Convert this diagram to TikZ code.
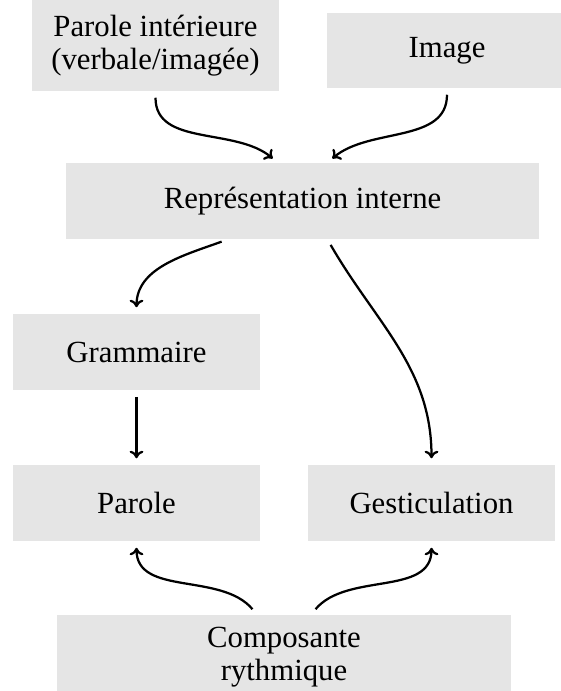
\documentclass[tikz,border=0pt]{standalone}
\usepackage{fontspec}
\setmainfont{Liberation Serif}
\usepackage{tikz}
\usetikzlibrary{positioning,arrows.meta}

\tikzset{
  bloc/.style={fill=gray!20, inner sep=0pt, align=center,
    font=\fontsize{12.3}{13.4}\selectfont},
  lien/.style={-{To[length=3pt,width=5.5pt]}, line width=0.9pt, shorten <=2.5pt, shorten >=2.5pt}
}

\begin{document}
\begin{tikzpicture}[x=0.4pt,y=-0.4pt]
      \useasboundingbox (0,0) rectangle (560,691);
      \node[bloc,minimum width=98.8pt,minimum height=36.4pt] (pint) at (155.5,45.5) {Parole intérieure\\(verbale/imagée)};
      \node[bloc,minimum width=96pt,minimum height=30pt] (img) at (447,50.5) {Image};
      \node[bloc,minimum width=189.2pt,minimum height=30.4pt] (rep) at (302.5,201) {Représentation interne};
      \node[bloc,minimum width=98.8pt,minimum height=30.4pt] (gram) at (136.5,352) {Grammaire};
      \node[bloc,minimum width=98.8pt,minimum height=30.4pt] (parole) at (136.5,503) {Parole};
      \node[bloc,minimum width=98.8pt,minimum height=30.4pt] (gest) at (431.5,503) {Gesticulation};
      \node[bloc,minimum width=181.6pt,minimum height=34pt] (comp) at (284,657) {Composante\\rythmique};
      \draw[lien] (pint.south) to[out=-90,in=140] ([xshift=-10pt]rep.north);
      \draw[lien] (img.south) to[out=-90,in=40] ([xshift=10pt]rep.north);
      \draw[lien] ([xshift=-30pt]rep.south) to[out=200,in=90] (gram.north);
      \draw[lien] ([xshift=10pt]rep.south) to[out=-60,in=90] (gest.north);
      \draw[lien] (gram) -- (parole);
      \draw[lien] ([xshift=-11pt]comp.north) to[out=130,in=-90] (parole.south);
      \draw[lien] ([xshift=11pt]comp.north) to[out=50,in=-90] (gest.south);
    \end{tikzpicture}
\end{document}
